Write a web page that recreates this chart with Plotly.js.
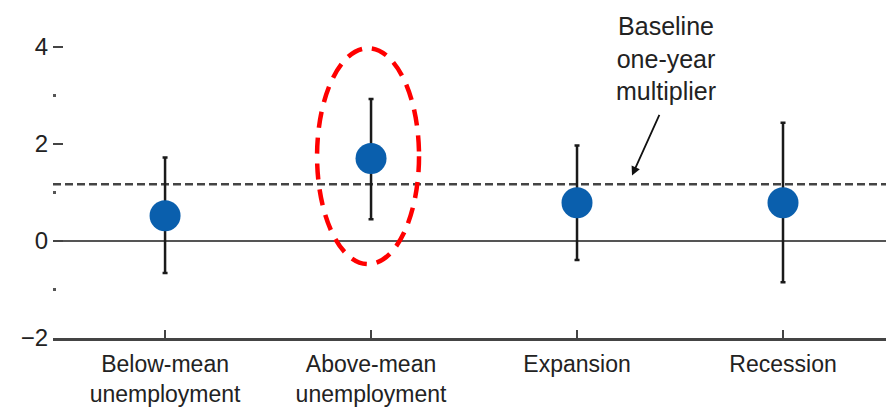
<!DOCTYPE html>
<html>
<head>
<meta charset="utf-8">
<script src="https://cdn.plot.ly/plotly-3.0.1.min.js"></script>
<style>html,body{margin:0;padding:0;background:#fff;}#chart{width:886px;height:409px;}</style>
</head>
<body>
<div id="chart"></div>
<script>
// Data
const categories = ['Below-mean<br>unemployment', 'Above-mean<br>unemployment', 'Expansion', 'Recession'];
const multiplier = [0.52, 1.70, 0.79, 0.79];
const upperBound = [1.72, 2.93, 1.97, 2.44];
const lowerBound = [-0.66, 0.45, -0.39, -0.85];
const baseline = 1.17;
const yTickVals = [-2, 0, 2, 4];
const yTickText = ['\u22122', '0', '2', '4'];
const yMinorVals = [-1, 1, 3, 5];

const errPlus = upperBound.map((u, i) => u - multiplier[i]);
const errMinus = multiplier.map((v, i) => v - lowerBound[i]);

const FONT = 'Liberation Sans, Arial, sans-serif';

const trace = {
  type: 'scatter',
  mode: 'markers',
  x: categories,
  y: multiplier,
  marker: {size: 31, color: '#0a5fad', line: {width: 0}},
  error_y: {
    type: 'data', symmetric: false,
    array: errPlus, arrayminus: errMinus,
    color: '#1a1a1a', thickness: 2.5, width: 2.5
  },
  hoverinfo: 'none',
  cliponaxis: false
};

const layout = {
  width: 886, height: 409,
  margin: {l: 53, r: 0, t: 0, b: 71},
  paper_bgcolor: '#fff', plot_bgcolor: '#fff',
  showlegend: false,
  font: {family: FONT, color: '#222'},
  xaxis: {
    type: 'category',
    range: [-0.544, 3.5],
    showgrid: false, zeroline: false,
    showline: true, linecolor: '#444', linewidth: 2.5,
    ticks: 'inside', ticklen: 8, tickwidth: 2, tickcolor: '#444',
    tickfont: {family: FONT, size: 23, color: '#222'},
    ticklabelstandoff: 4,
    fixedrange: true
  },
  yaxis: {
    range: [-2, 4.97],
    showgrid: false,
    zeroline: true, zerolinecolor: '#555', zerolinewidth: 2.5,
    showline: false,
    tickmode: 'array', tickvals: yTickVals, ticktext: yTickText,
    ticks: 'inside', ticklen: 10, tickwidth: 2, tickcolor: '#444',
    minor: {tickmode: 'array', tickvals: yMinorVals, ticks: 'inside', ticklen: 3, tickwidth: 3, tickcolor: '#555'},
    tickfont: {family: FONT, size: 24, color: '#222'},
    ticklabelstandoff: 4,
    fixedrange: true
  },
  shapes: [
    {type: 'line', xref: 'paper', yref: 'y', x0: 0, x1: 1, y0: baseline, y1: baseline,
     line: {color: '#444', width: 2.5, dash: '8px,4px'}, layer: 'below'},
    {type: 'circle', xref: 'x', yref: 'y', x0: 0.738, x1: 1.233, y0: -0.476, y1: 3.975,
     line: {color: '#ff0000', width: 4.5, dash: '16px,10px'}, layer: 'above'}
  ],
  annotations: [
    {xref: 'x', yref: 'y', x: 2.432, y: 3.77, text: 'Baseline<br>one-year<br>multiplier',
     showarrow: false, font: {family: FONT, size: 25, color: '#222'}, align: 'center'},
    {xref: 'x', yref: 'y', x: 2.267, y: 1.35, axref: 'x', ayref: 'y', ax: 2.403, ay: 2.63,
     text: '', showarrow: true, arrowhead: 2, arrowsize: 1, arrowwidth: 1.8, arrowcolor: '#111'}
  ]
};

Plotly.newPlot('chart', [trace], layout, {displayModeBar: false, staticPlot: true});
</script>
</body>
</html>
